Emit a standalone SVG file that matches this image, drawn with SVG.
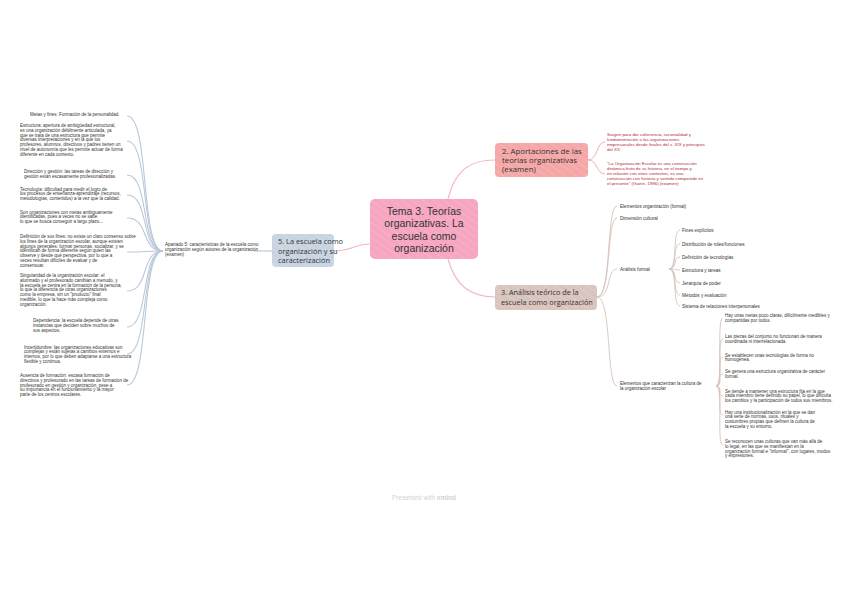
<svg xmlns="http://www.w3.org/2000/svg" width="848" height="599" viewBox="0 0 848 599">
<defs>
<pattern id="hatch" width="6" height="6" patternUnits="userSpaceOnUse" patternTransform="rotate(-55)">
<line x1="0" y1="0" x2="0" y2="6" stroke="#ffffff" stroke-width="0.8" stroke-opacity="0.35"/>
</pattern>
<style>
.leaf{font-family:"Liberation Sans",Arial,sans-serif;font-size:4.5px;fill:#333333}
.red{font-family:"Liberation Sans",Arial,sans-serif;font-size:4.4px;fill:#b02a36}
.sub{font-family:"Liberation Sans",Arial,sans-serif;font-size:4.6px;fill:#333333}
.node{font-family:"Open Sans","Noto Sans",sans-serif;fill:#333333}
.c-blue{fill:none;stroke:#b9c8d9;stroke-width:1.1}
.c-pink{fill:none;stroke:#f2b8c8;stroke-width:1.2}
.c-red{fill:none;stroke:#f0a6a6;stroke-width:0.9}
.c-tan{fill:none;stroke:#d6c3bb;stroke-width:0.9}
</style>
</defs>
<rect width="848" height="599" fill="#ffffff"/>

<g id="connectors">
<path class="c-pink" d="M448,199 C455,170 470,160 495,160"/>
<path class="c-pink" d="M448,259 C455,285 470,297 495,297"/>
<path class="c-pink" d="M370,244 C355,244 352,251 334,251"/>
<path class="c-blue" d="M272,251 L254,251"/>
<path class="c-blue" d="M163,251 C140,251 150,116 127,116"/>
<path class="c-blue" d="M163,251 C140,251 150,141 127,141"/>
<path class="c-blue" d="M163,251 C140,251 150,175 127,175"/>
<path class="c-blue" d="M163,251 C140,251 150,195 127,195"/>
<path class="c-blue" d="M163,251 C140,251 150,218 127,218"/>
<path class="c-blue" d="M163,251 C140,251 150,252 127,252"/>
<path class="c-blue" d="M163,251 C140,251 150,291 127,291"/>
<path class="c-blue" d="M163,251 C140,251 150,327 127,327"/>
<path class="c-blue" d="M163,251 C140,251 150,354 127,354"/>
<path class="c-blue" d="M163,251 C140,251 150,385 127,385"/>
<path class="c-red" d="M588,160 C598,160 596,142 605,142"/>
<path class="c-red" d="M588,160 C598,160 596,174 605,174"/>
<path class="c-tan" d="M597,297 C612,297 606,206 617,206"/>
<path class="c-tan" d="M597,297 C612,297 606,218 617,218"/>
<path class="c-tan" d="M597,297 C612,297 606,269 617,269"/>
<path class="c-tan" d="M597,297 C612,297 606,386 617,386"/>
<path class="c-tan" d="M669,269 C678,269 672,230 680,230"/>
<path class="c-tan" d="M669,269 C678,269 672,244 680,244"/>
<path class="c-tan" d="M669,269 C678,269 672,257 680,257"/>
<path class="c-tan" d="M669,269 C678,269 672,270 680,270"/>
<path class="c-tan" d="M669,269 C678,269 672,283 680,283"/>
<path class="c-tan" d="M669,269 C678,269 672,295 680,295"/>
<path class="c-tan" d="M669,269 C678,269 672,306 680,306"/>
<path class="c-tan" d="M716,386 C724,386 716,318 723,318"/>
<path class="c-tan" d="M716,386 C724,386 716,339 723,339"/>
<path class="c-tan" d="M716,386 C724,386 716,357 723,357"/>
<path class="c-tan" d="M716,386 C724,386 716,374 723,374"/>
<path class="c-tan" d="M716,386 C724,386 716,396 723,396"/>
<path class="c-tan" d="M716,386 C724,386 716,415 723,415"/>
<path class="c-tan" d="M716,386 C724,386 716,445 723,445"/>
</g>

<g id="central">
<rect x="370" y="199" width="108" height="60" rx="5" fill="#f6a6c1"/>
<rect x="370" y="199" width="108" height="60" rx="5" fill="url(#hatch)"/>
<text font-family="'Liberation Sans',Arial,sans-serif" fill="#333333" font-size="10.5" text-anchor="middle"><tspan x="424" y="215">Tema 3. Teorías</tspan><tspan x="424" y="227.3">organizativas. La</tspan><tspan x="424" y="239.6">escuela como</tspan><tspan x="424" y="251.9">organización</tspan></text>
</g>

<g id="node2">
<rect x="495" y="143" width="93" height="34" rx="4" fill="#f5a7a7"/>
<rect x="495" y="143" width="93" height="34" rx="4" fill="url(#hatch)"/>
<text class="node" font-size="7.8"><tspan x="502" y="154">2. Aportaciones de las</tspan><tspan x="502" y="163">teorías organizativas</tspan><tspan x="502" y="172">(examen)</tspan></text>
</g>

<g id="node2-notes">
<text class="red"><tspan x="607" y="136">Surgen para dar coherencia, racionalidad y</tspan><tspan x="607" y="141">fundamentación a las organizaciones</tspan><tspan x="607" y="146">empresariales desde finales del s. XIX y principios</tspan><tspan x="607" y="151">del XX.</tspan></text>
<text class="red"><tspan x="607" y="165">"La Organización Escolar es una construcción</tspan><tspan x="607" y="170">dinámica fruto de su historia, en el tiempo y</tspan><tspan x="607" y="175">en relación con otros contextos, es una</tspan><tspan x="607" y="180">construcción con historia y sentido compartido en</tspan><tspan x="607" y="185">el presente" (Gairín, 1996) (examen)</tspan></text>
</g>

<g id="node3">
<rect x="495" y="285" width="102" height="25" rx="4" fill="#d9c5be"/>
<rect x="495" y="285" width="102" height="25" rx="4" fill="url(#hatch)"/>
<text class="node" font-size="7.3"><tspan x="501" y="295">3. Análisis teórico de la</tspan><tspan x="501" y="305">escuela como organización</tspan></text>
</g>

<g id="node3-leaves">
<text class="sub" x="620" y="207.5">Elementos organización (formal)</text>
<text class="sub" x="620" y="219.5">Dimensión cultural</text>
<text class="sub" x="620" y="270.5">Análisis formal</text>
<text class="sub" x="682" y="231.5">Fines explícitos</text>
<text class="sub" x="682" y="245.5">Distribución de roles/funciones</text>
<text class="sub" x="682" y="258.5">Definición de tecnologías</text>
<text class="sub" x="682" y="271.5">Estructura y tareas</text>
<text class="sub" x="682" y="284.5">Jerarquía de poder</text>
<text class="sub" x="682" y="296.5">Métodos y evaluación</text>
<text class="sub" x="682" y="307.5">Sistema de relaciones interpersonales</text>
<text class="leaf"><tspan x="620" y="385">Elementos que caracterizan la cultura de</tspan><tspan x="620" y="390">la organización escolar</tspan></text>
<text class="leaf"><tspan x="725" y="317">Hay unas metas poco claras, difícilmente medibles y</tspan><tspan x="725" y="321.8">compartidas por todos.</tspan></text>
<text class="leaf"><tspan x="725" y="338">Las piezas del conjunto no funcionan de manera</tspan><tspan x="725" y="342.8">coordinada ni interrelacionada.</tspan></text>
<text class="leaf"><tspan x="725" y="356.5">Se establecen unas tecnologías de forma no</tspan><tspan x="725" y="361.3">homogénea.</tspan></text>
<text class="leaf"><tspan x="725" y="373">Se genera una estructura organizativa de carácter</tspan><tspan x="725" y="377.8">formal.</tspan></text>
<text class="leaf"><tspan x="725" y="392.5">Se tiende a mantener una estructura fija en la que</tspan><tspan x="725" y="397.3">cada miembro tiene definido su papel, lo que dificulta</tspan><tspan x="725" y="402.1">los cambios y la participación de todos sus miembros.</tspan></text>
<text class="leaf"><tspan x="725" y="413.5">Hay una institucionalización en la que se dan</tspan><tspan x="725" y="418.3">una serie de normas, usos, rituales y</tspan><tspan x="725" y="423.1">costumbres propias que definen la cultura de</tspan><tspan x="725" y="427.9">la escuela y su entorno.</tspan></text>
<text class="leaf"><tspan x="725" y="443">Se reconocen unas culturas que van más allá de</tspan><tspan x="725" y="447.8">lo legal, en las que se manifiestan en la</tspan><tspan x="725" y="452.6">organización formal e "informal", con lugares, modos</tspan><tspan x="725" y="457.4">y expresiones.</tspan></text>
</g>

<g id="node5">
<rect x="272" y="234" width="62" height="33" rx="4" fill="#c9d4e2"/>
<rect x="272" y="234" width="62" height="33" rx="4" fill="url(#hatch)"/>
<text class="node" font-size="7.4"><tspan x="278" y="244">5. La escuela como</tspan><tspan x="278" y="253.5">organización y su</tspan><tspan x="278" y="263">caracterización</tspan></text>
</g>

<g id="node5-child">
<text class="leaf"><tspan x="165" y="246">Apartado 5: características de la escuela como</tspan><tspan x="165" y="251">organización según autores de la organización</tspan><tspan x="165" y="256">(examen)</tspan></text>
</g>

<g id="left-leaves">
<text class="leaf" x="30" y="115.5">Metas y fines: Formación de la personalidad.</text>
<text class="leaf"><tspan x="20" y="127">Estructura: apertura de ambigüedad estructural,</tspan><tspan x="20" y="131.8">es una organización débilmente articulada, ya</tspan><tspan x="20" y="136.6">que se trata de una estructura que permite</tspan><tspan x="20" y="141.4">diversas interpretaciones y en la que los</tspan><tspan x="20" y="146.2">profesores, alumnos, directivos y padres tienen un</tspan><tspan x="20" y="151">nivel de autonomía que les permite actuar de forma</tspan><tspan x="20" y="155.8">diferente en cada contexto.</tspan></text>
<text class="leaf"><tspan x="24" y="172.5">Dirección y gestión: las tareas de dirección y</tspan><tspan x="24" y="178">gestión están escasamente profesionalizadas.</tspan></text>
<text class="leaf"><tspan x="20" y="190.5">Tecnología: dificultad para medir el logro de</tspan><tspan x="20" y="195.3">los procesos de enseñanza-aprendizaje (recursos,</tspan><tspan x="20" y="200.1">metodologías, contenidos) a la vez que la calidad.</tspan></text>
<text class="leaf"><tspan x="20" y="213.5">Son organizaciones con metas ambiguamente</tspan><tspan x="20" y="218.3">identificadas, pues a veces no se sabe</tspan><tspan x="20" y="223.1">lo que se busca conseguir a largo plazo...</tspan></text>
<text class="leaf"><tspan x="20" y="238">Definición de sus fines: no existe un claro consenso sobre</tspan><tspan x="20" y="242.8">los fines de la organización escolar, aunque existen</tspan><tspan x="20" y="247.6">algunos generales: formar personas, socializar, y se</tspan><tspan x="20" y="252.4">identifican de forma diferente según quien las</tspan><tspan x="20" y="257.2">observe y desde qué perspectiva, por lo que a</tspan><tspan x="20" y="262">veces resultan difíciles de evaluar y de</tspan><tspan x="20" y="266.8">consensuar.</tspan></text>
<text class="leaf"><tspan x="20" y="277">Singularidad de la organización escolar: el</tspan><tspan x="20" y="281.8">alumnado y el profesorado cambian a menudo, y</tspan><tspan x="20" y="286.6">la escuela se centra en la formación de la persona,</tspan><tspan x="20" y="291.4">lo que la diferencia de otras organizaciones</tspan><tspan x="20" y="296.2">como la empresa, sin un "producto" final</tspan><tspan x="20" y="301">medible, lo que la hace más compleja como</tspan><tspan x="20" y="305.8">organización.</tspan></text>
<text class="leaf"><tspan x="33" y="322">Dependencia: la escuela depende de otras</tspan><tspan x="33" y="326.8">instancias que deciden sobre muchos de</tspan><tspan x="33" y="331.6">sus aspectos.</tspan></text>
<text class="leaf"><tspan x="24" y="348.5">Incertidumbre: las organizaciones educativas son</tspan><tspan x="24" y="353.3">complejas y están sujetas a cambios externos e</tspan><tspan x="24" y="358.1">internos, por lo que deben adaptarse a una estructura</tspan><tspan x="24" y="362.9">flexible y continua.</tspan></text>
<text class="leaf"><tspan x="20" y="377">Ausencia de formación: escasa formación de</tspan><tspan x="20" y="381.8">directivos y profesorado en las tareas de formación de</tspan><tspan x="20" y="386.6">profesorado en gestión y organización, pese a</tspan><tspan x="20" y="391.4">su importancia en el funcionamiento y la mayor</tspan><tspan x="20" y="396.2">parte de los centros escolares.</tspan></text>
</g>

<g id="watermark">
<text x="424" y="500" text-anchor="middle" font-family="'Liberation Sans',Arial,sans-serif" font-size="6.5" fill="#d2d2d2">Presented with <tspan font-weight="bold">xmind</tspan></text>
</g>
</svg>
